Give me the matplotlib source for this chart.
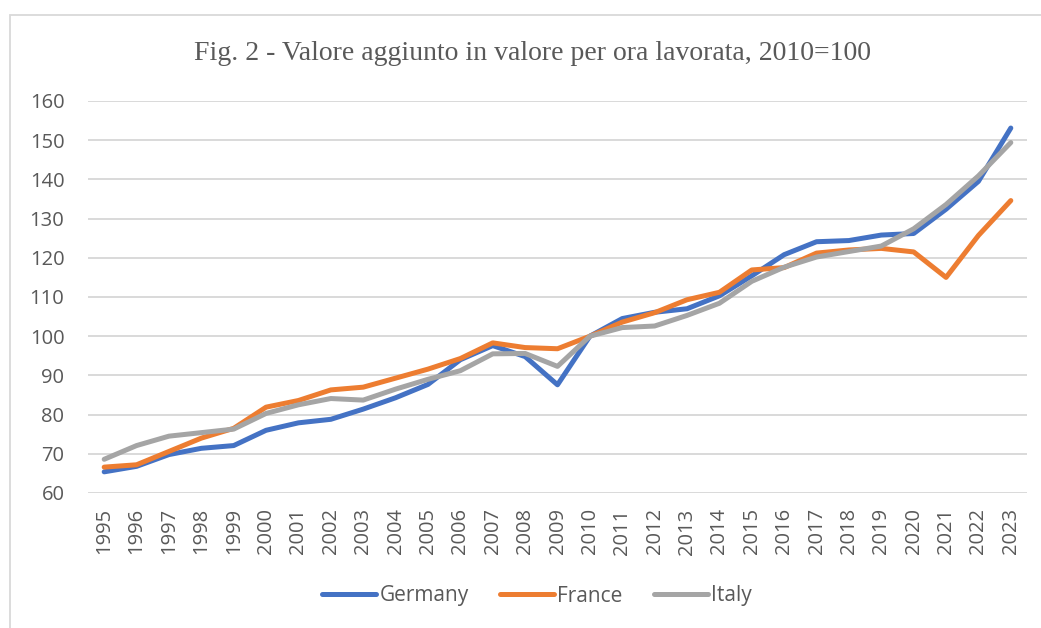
import numpy as np
import matplotlib
matplotlib.use("Agg")
import matplotlib.pyplot as plt
from matplotlib.patches import Rectangle

# values (2010 = 100)
years = [str(y) for y in range(1995, 2024)]
germany = [65.4, 66.8, 69.8, 71.4, 72.1, 76.0, 77.9, 78.8, 81.4, 84.3, 87.7,
           94.0, 97.6, 94.8, 87.6, 100.0, 104.5, 106.1, 107.0, 110.3, 115.4,
           120.8, 124.1, 124.4, 125.8, 126.2, 132.4, 139.5, 153.1]
france = [66.6, 67.2, 70.6, 74.0, 76.5, 81.9, 83.6, 86.3, 87.0, 89.3, 91.6,
          94.3, 98.3, 97.1, 96.8, 100.0, 103.6, 106.0, 109.3, 111.2, 116.9,
          117.5, 121.2, 122.0, 122.4, 121.5, 115.0, 125.7, 134.6]
italy = [68.6, 72.1, 74.5, 75.4, 76.3, 80.3, 82.5, 84.1, 83.7, 86.5, 89.0,
         91.2, 95.5, 95.6, 92.3, 100.0, 102.2, 102.6, 105.3, 108.4, 114.0,
         117.6, 120.2, 121.6, 123.0, 127.4, 133.6, 140.9, 149.4]
series = [("Germany", germany, "#4472C4"),
          ("France", france, "#ED7D31"),
          ("Italy", italy, "#A5A5A5")]

plt.rcParams['font.family'] = ['Open Sans', 'DejaVu Sans']
text_col = "#595959"
grid_col = "#D9D9D9"

fig = plt.figure(figsize=(10.41, 6.28), dpi=100)
W, H = 1041, 628

# outer chart frame (runs off the right/bottom edge like the crop)
fig.patches.append(Rectangle((10 / W, -0.1), 1.2, 1 - 15 / H + 0.1,
                             transform=fig.transFigure, fill=False,
                             edgecolor=grid_col, linewidth=1.3))

ax = fig.add_axes([88 / W, 1 - 493 / H, (1027 - 88) / W, (493 - 101) / H])
x = np.arange(len(years))
for name, vals, col in series:
    ax.plot(x, vals, color=col, linewidth=3.6, label=name,
            solid_capstyle='round', solid_joinstyle='round')

ax.set_xlim(-0.5, len(years) - 0.5)
ax.set_ylim(60, 160)
ax.set_yticks(range(60, 161, 10))
ax.set_xticks(x)
ax.set_xticklabels(years, rotation=90)
ax.grid(axis='y', color=grid_col, linewidth=1.4)
ax.set_axisbelow(True)
for s in ax.spines.values():
    s.set_visible(False)
ax.tick_params(axis='both', length=0, colors=text_col, labelsize=14.5)
ax.tick_params(axis='y', pad=17)
ax.tick_params(axis='x', pad=11)

fig.text(533 / W, 1 - 53 / H, "Fig. 2 - Valore aggiunto in valore per ora lavorata, 2010=100",
         ha='center', va='center', family='Liberation Serif', fontsize=20,
         color=text_col)

leg = fig.legend(loc='center', bbox_to_anchor=(537 / W, 1 - 596 / H), ncol=3,
                 frameon=False, fontsize=15, handlelength=2.6,
                 handletextpad=0.15, columnspacing=1.5)
for t in leg.get_texts():
    t.set_color(text_col)

fig.savefig("out.png", dpi=100)
